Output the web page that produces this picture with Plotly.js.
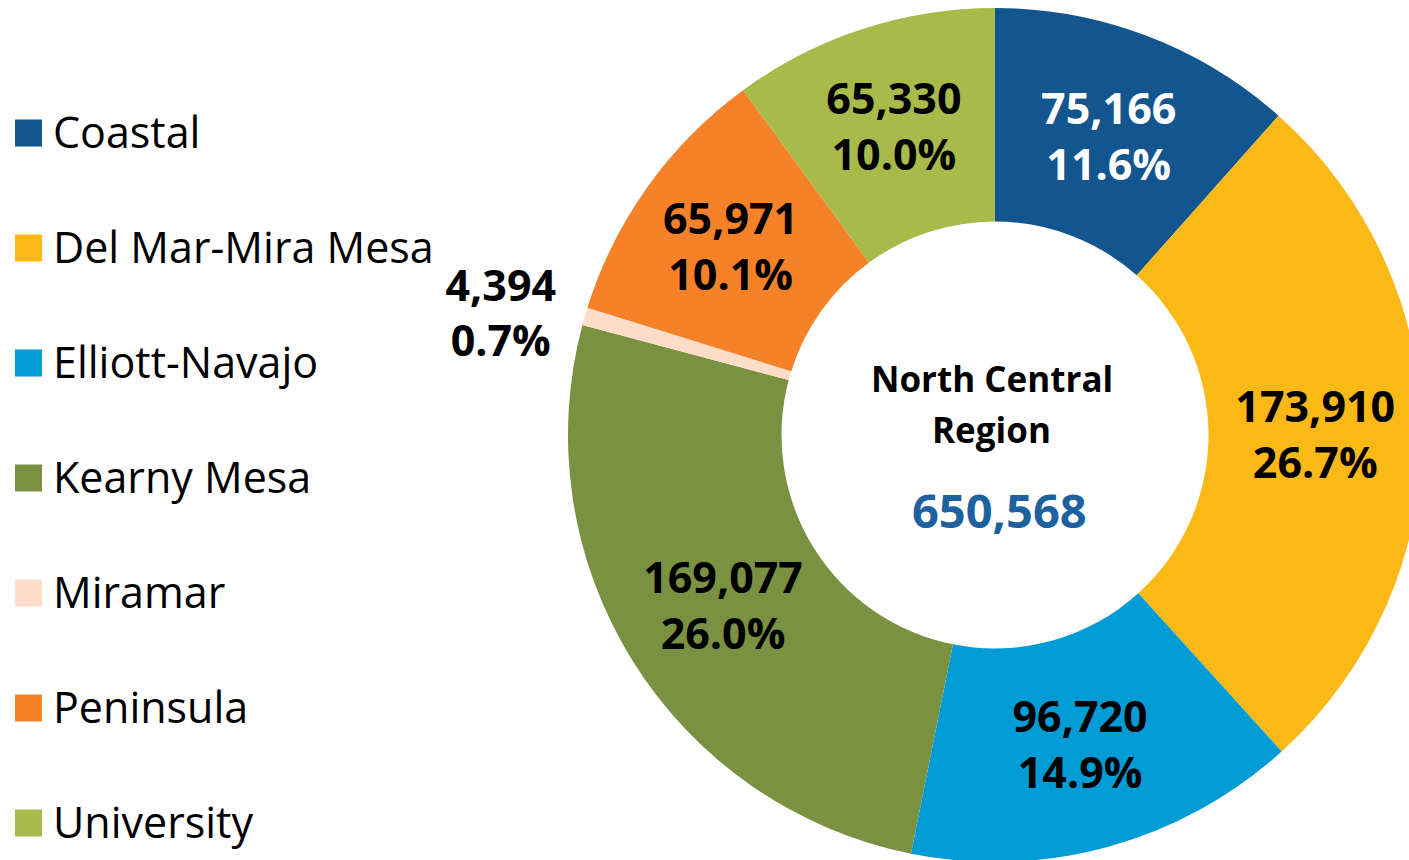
<!DOCTYPE html>
<html>
<head>
<meta charset="utf-8">
<script src="https://cdn.plot.ly/plotly-3.0.1.min.js"></script>
<style>
html, body { margin: 0; padding: 0; overflow: hidden; background: #fff; width: 1409px; height: 860px; }
#chart { width: 1430px; height: 870px; }
</style>
</head>
<body>
<div id="chart"></div>
<script>
const labels = ["Coastal", "Del Mar-Mira Mesa", "Elliott-Navajo", "Kearny Mesa", "Miramar", "Peninsula", "University"];
const values = [75166, 173910, 96720, 169077, 4394, 65971, 65330];
const colors = ["#13558F", "#FBB917", "#019CD6", "#7A9142", "#FFDDC8", "#F58229", "#A8BA4A"];
const labelColors = ["#FFFFFF", "#000000", "#000000", "#000000", "#000000", "#000000", "#000000"];
const textPositions = ["inside", "inside", "inside", "inside", "outside", "inside", "inside"];
const regionLines = ["North Central", "Region"];

const total = values.reduce((a, b) => a + b, 0);
const texts = values.map(v => v.toLocaleString("en-US") + "<br>" + (v / total * 100).toFixed(1) + "%");

const W = 1430, H = 870;
const cx = 995, cy = 435, R = 427;

const trace = {
  type: "pie",
  labels: labels,
  values: values,
  text: texts,
  textinfo: "text",
  textposition: textPositions,
  insidetextorientation: "horizontal",
  sort: false,
  direction: "clockwise",
  rotation: 0,
  hole: 0.5,
  marker: { colors: colors, line: { width: 0 } },
  textfont: { family: "Open Sans", size: 43, color: labelColors, weight: 700 },
  showlegend: false,
  domain: { x: [(cx - R) / W, (cx + R) / W], y: [(H - cy - R) / H, (H - cy + R) / H] }
};

const shapes = [];
const annotations = [];
const legendTop = 133, legendStep = 115;
labels.forEach((lab, i) => {
  const yc = legendTop + i * legendStep;
  shapes.push({
    type: "rect", xref: "paper", yref: "paper",
    x0: 15 / W, x1: 42 / W, y0: (H - yc - 13.5) / H, y1: (H - yc + 13.5) / H,
    fillcolor: colors[i], line: { width: 0 }
  });
  annotations.push({
    xref: "paper", yref: "paper", x: 51 / W, y: (H - yc + 2) / H,
    xanchor: "left", yanchor: "middle", showarrow: false,
    text: lab, font: { family: "Open Sans", size: 43, color: "#000" }
  });
});

const regionY = [378, 430];
regionLines.forEach((t, i) => {
  annotations.push({
    xref: "paper", yref: "paper", x: 992 / W, y: (H - regionY[i]) / H,
    xanchor: "center", yanchor: "middle", showarrow: false,
    text: t, font: { family: "Open Sans", size: 35, color: "#000", weight: 700 }
  });
});
annotations.push({
  xref: "paper", yref: "paper", x: 999 / W, y: (H - 510) / H,
  xanchor: "center", yanchor: "middle", showarrow: false,
  text: total.toLocaleString("en-US"), font: { family: "Open Sans", size: 47, color: "#1D61A0", weight: 700 }
});

const layout = {
  width: W, height: H,
  margin: { l: 0, r: 0, t: 0, b: 0 },
  paper_bgcolor: "#fff",
  uniformtext: { mode: "show", minsize: 43 },
  shapes: shapes,
  annotations: annotations
};

Plotly.newPlot("chart", [trace], layout, { staticPlot: true });
</script>
</body>
</html>
